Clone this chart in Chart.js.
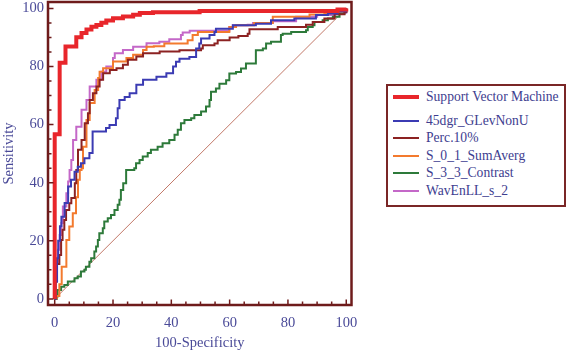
<!DOCTYPE html>
<html><head><meta charset="utf-8">
<script src="https://cdn.jsdelivr.net/npm/chart.js@4"></script>
<style>
html,body{margin:0;padding:0;background:#fff;}
#wrap{position:relative;width:566px;height:352px;overflow:hidden;}
#legend{position:absolute;left:386px;top:84px;width:180px;height:123px;box-sizing:border-box;border:2px solid #7a2626;background:#fff;}
.row{position:absolute;left:5px;height:16px;display:flex;align-items:center;white-space:nowrap;font:13.6px "Liberation Serif",serif;color:#3d3d8f;}
.sw{display:inline-block;width:26px;margin-right:7px;}
</style></head>
<body><div id="wrap"><canvas id="c" width="566" height="352"></canvas><div id="legend"></div></div>
<script>
// ---- data ----
const seriesNames = ["Support Vector Machine","45dgr_GLevNonU","Perc.10%","S_0_1_SumAverg","S_3_3_Contrast","WavEnLL_s_2"];
const xTicks = [0,20,40,60,80,100];
const yTicks = [0,20,40,60,80,100];
const svm = [[0,0],[0,56.7],[1.7,81.3],[3.7,86.9],[7.4,90.1],[9.2,91.5],[10.9,92.7],[12.6,93.7],[14.3,94.3],[16,95.1],[17.7,95.8],[20,96.6],[23.4,97.2],[26.9,97.8],[29.2,98.4],[33.7,98.7],[49.7,99.1],[97,99.6],[100,100]];
const glev = [[0,0],[0.3,6],[0.8,14],[1.2,20],[1.8,25],[2.3,28.3],[3.4,33],[4.6,38.7],[5.6,41],[6.8,43.8],[7.9,45.5],[9,46.7],[10.2,48.4],[11.9,50.2],[13,57.6],[17.6,58.8],[18.8,59.9],[21,62.2],[21.6,65.6],[22.2,68.5],[24,69.5],[25.7,70.8],[28,73.7],[30.3,75.4],[34.9,76.5],[38.3,77.7],[40.6,80],[41.6,81.6],[42.8,82.7],[46.2,83.3],[48.5,86.2],[49.6,87.9],[50.2,89.6],[53.1,90.8],[54.8,91.9],[55.3,93],[61.1,94.2],[69,94.7],[74.2,95.9],[82.2,96.5],[89.6,97.7],[93.7,98.2],[97,99],[100,100]];
const perc = [[0,0],[0.3,6],[0.8,12],[1.6,15.1],[2.2,20.3],[2.7,23.8],[3.3,27.2],[3.9,30.6],[5,32.9],[5.7,34.7],[6.9,39.8],[7.4,44.4],[8,51.3],[9.2,54.7],[10.3,60.5],[11.4,63.9],[12,68.5],[13.1,70.8],[14.3,73.1],[15.4,75.4],[16.6,77.7],[18.9,78.8],[21.2,79.4],[23.4,80.6],[25.1,82.3],[28,83.4],[30.3,84.6],[36,85.2],[42.8,85.6],[50.2,86.2],[50.8,87.3],[54.8,87.9],[55.9,89],[60,90],[63,90.5],[66.2,91.3],[66.8,92.8],[76.5,93.6],[86.2,94.4],[88.5,95.3],[92.5,96.5],[96,98],[99.4,98.8],[100,100]];
const sumAverg = [[0,0],[0.6,1],[1.6,5],[2.4,11.1],[4,20.3],[5,24.9],[6.2,29.5],[7.3,35],[8,41],[8.6,44.4],[9.2,45],[9.7,52.4],[10.9,61.6],[12,67.4],[13.7,71.9],[14.9,76],[15.4,78.2],[16.6,79.4],[20,81.7],[24.6,82.9],[26.9,84],[30.3,85.7],[31.5,86.8],[34,87],[37.6,87.9],[45.6,89],[47.3,90.8],[49.1,91.9],[59.9,93.6],[62.2,94.2],[68.4,95],[74.8,97.1],[87.4,97.9],[92.5,98.3],[97,99],[100,100]];
const contrast = [[0,0],[0.7,0.8],[1,3.1],[2.2,4.2],[3.3,4.8],[4.5,6],[6.8,7.1],[7.9,7.7],[9,9.4],[10.2,10],[10.7,11.1],[11.9,12.8],[12.5,14],[13.6,16.3],[14.2,18],[14.8,20.3],[15.3,22.6],[16.5,24.3],[17,26.6],[18.2,27.8],[19.3,28.9],[20.5,30.6],[21.6,32.4],[22.2,34.1],[22.7,37.5],[23.5,39.8],[24.5,44.4],[27.3,45],[27.9,46.7],[29.1,47.8],[30.2,49],[31.9,50.2],[33,51.3],[35.3,52.4],[37,53.6],[39.3,54.7],[41.1,56.5],[42.2,58.2],[43.3,60.5],[44.5,61.6],[46.8,62.2],[47.9,63.3],[50.2,64.5],[51.9,66.2],[53.1,68.5],[53.6,71.3],[55.3,72.4],[56.5,74.1],[58.8,75.3],[59.9,77.6],[62.2,78.1],[63.9,79.3],[65.6,81],[69,85.6],[71.4,86.2],[72.5,87.9],[74.2,88.5],[77.6,90.8],[78.2,91.3],[81.1,91.9],[86.2,92.5],[86.8,93.6],[88.5,94.2],[89.1,95.3],[91.9,95.9],[93.7,96.5],[95.4,97.1],[97.7,98.2],[99.4,98.8],[100,100]];
const wavEn = [[0,0],[0,6.5],[0.6,12.3],[1.1,16.9],[1.7,22],[2.3,26.1],[2.8,31.8],[4,36.4],[4.6,40.4],[5.1,44.4],[5.7,47.8],[6.3,54.7],[7.4,59.3],[9.2,65.1],[10.9,68.5],[12,73.1],[14.3,75.4],[16,78.2],[17.7,80],[20,82.9],[20.6,84.6],[23.4,85.7],[26.9,86.8],[31.5,88],[35.9,88.5],[39.3,89.4],[43.3,90.8],[43.9,91.7],[46.3,92.3],[59.9,93.6],[61.1,94.2],[66.2,94.4],[68,95],[74.8,95.6],[82.8,97.1],[90,97.7],[96,98.5],[100,100]];
const diagonal = [[0,0],[100,100]];

// ---- styles ----
const series = [svm, glev, perc, sumAverg, contrast, wavEn];
const seriesColors = ["#e8262b","#3b3bb3","#8c2222","#f37a2e","#2d7a3a","#c468c8"];
const seriesWidths = [4,2,2,2,2,2];
const textColor = "#4a4a98";
const frameColor = "#6e1b1b";
const fontFam = '"Liberation Serif", serif';

const datasets = series.map((pts,i)=>({
  label: seriesNames[i],
  data: pts.map(p=>({x:p[0],y:p[1]})),
  borderColor: seriesColors[i],
  borderWidth: seriesWidths[i],
  pointRadius: 0,
  stepped: 'before',
  fill: false,
  tension: 0
}));
datasets.push({label:'reference', data: diagonal.map(p=>({x:p[0],y:p[1]})), borderColor:'#c27868', borderWidth:1, pointRadius:0, fill:false});

const framePlugin = {
  id:'frame',
  afterDraw(chart){
    const {ctx, chartArea:a, scales:{x,y}} = chart;
    ctx.save();
    ctx.strokeStyle = frameColor;
    ctx.lineWidth = 2.5;
    ctx.strokeRect(a.left, a.top, a.right-a.left, a.bottom-a.top);
    ctx.lineWidth = 1.5;
    ctx.beginPath();
    for (let v=0; v<=100; v+=5){
      const len = v%20===0 ? 5.5 : 3.5;
      const px = x.getPixelForValue(v);
      ctx.moveTo(px, a.bottom); ctx.lineTo(px, a.bottom-len);
      const py = y.getPixelForValue(v);
      ctx.moveTo(a.left, py); ctx.lineTo(a.left+len, py);
    }
    ctx.stroke();
    ctx.restore();
  }
};

new Chart(document.getElementById('c'), {
  type:'line',
  data:{datasets},
  options:{
    responsive:false, animation:false, devicePixelRatio:1,
    layout:{padding:{left:0,right:214.5,top:2,bottom:0}},
    plugins:{legend:{display:false}, tooltip:{enabled:false}},
    scales:{
      x:{type:'linear', min:-2.3, max:101.8,
        grid:{display:false, drawTicks:false}, border:{display:false},
        ticks:{color:textColor, font:{family:fontFam, size:14.5}, padding:9, maxRotation:0},
        afterBuildTicks:s=>{s.ticks = xTicks.map(v=>({value:v}));},
        afterFit:s=>{s.height=47; s.paddingLeft=0; s.paddingRight=0;},
        title:{display:true, text:'100-Specificity', color:textColor, font:{family:fontFam, size:14.5}, padding:0}
      },
      y:{type:'linear', min:-2.1, max:102.2,
        grid:{display:false, drawTicks:false}, border:{display:false},
        ticks:{color:textColor, font:{family:fontFam, size:14.5}, padding:4},
        afterBuildTicks:s=>{s.ticks = yTicks.map(v=>({value:v}));},
        afterFit:s=>{s.width=48; s.paddingTop=0; s.paddingBottom=0;},
        title:{display:true, text:'Sensitivity', color:textColor, font:{family:fontFam, size:14.5}, padding:0}
      }
    }
  },
  plugins:[framePlugin]
});

// ---- legend ----
const legend = document.getElementById('legend');
const rowCenters = [11, 34.5, 52, 69.5, 87, 104.5];
seriesNames.forEach((name,i)=>{
  const row = document.createElement('div');
  row.className = 'row';
  row.style.top = (rowCenters[i]-8)+'px';
  const sw = document.createElement('span');
  sw.className = 'sw';
  sw.style.borderTop = seriesWidths[i]+'px solid '+seriesColors[i];
  const tx = document.createElement('span');
  tx.textContent = name;
  row.appendChild(sw); row.appendChild(tx);
  legend.appendChild(row);
});
</script>
</body></html>
